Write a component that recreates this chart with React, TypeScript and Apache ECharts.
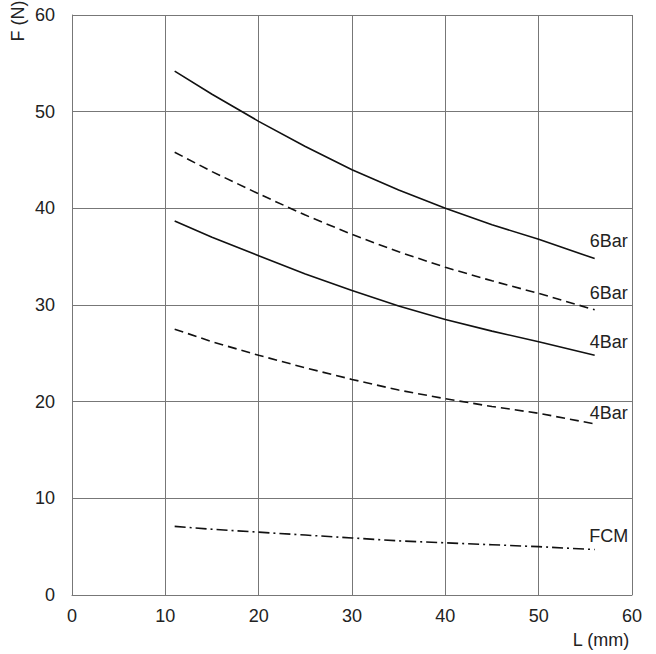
import React, { useEffect, useRef } from "react";
import * as echarts from "echarts";

const xValues = [11, 15, 20, 25, 30, 35, 40, 45, 50, 56];
const bar6Solid = [54.2, 51.8, 49.0, 46.4, 44.0, 41.9, 40.0, 38.3, 36.8, 34.8];
const bar6Dashed = [45.8, 43.8, 41.5, 39.3, 37.3, 35.5, 33.9, 32.5, 31.2, 29.5];
const bar4Solid = [38.7, 37.0, 35.1, 33.2, 31.5, 29.9, 28.5, 27.3, 26.2, 24.8];
const bar4Dashed = [27.5, 26.2, 24.8, 23.5, 22.3, 21.2, 20.3, 19.5, 18.8, 17.7];
const fcm = [7.1, 6.8, 6.5, 6.2, 5.9, 5.6, 5.4, 5.2, 5.0, 4.7];

const seriesDefs = [
  { name: "6Bar", values: bar6Solid, type: "solid" as any, dy: -18 },
  { name: "6Bar", values: bar6Dashed, type: [9, 5] as any, dy: -17 },
  { name: "4Bar", values: bar4Solid, type: "solid" as any, dy: -13 },
  { name: "4Bar", values: bar4Dashed, type: [9, 5] as any, dy: -11 },
  { name: "FCM", values: fcm, type: [11, 4, 2, 4] as any, dy: -14 },
];

export default function App() {
  const ref = useRef<HTMLDivElement>(null);
  useEffect(() => {
    const chart = echarts.init(ref.current!, null, { renderer: "svg" });
    const font = "'Liberation Sans', Arial, sans-serif";
    chart.setOption({
      animation: false,
      textStyle: { fontFamily: font },
      grid: { left: 72, top: 15, right: 24, bottom: 59, containLabel: false },
      xAxis: {
        type: "value",
        min: 0,
        max: 60,
        interval: 10,
        name: "L (mm)",
        nameLocation: "end",
        nameGap: 0,
        nameTextStyle: { color: "#222", fontSize: 18, fontFamily: font, align: "center", verticalAlign: "top", padding: [36, 0, 0, -62] },
        axisLine: { show: true, lineStyle: { color: "#777", width: 1 } },
        axisTick: { show: false },
        axisLabel: { color: "#222", fontSize: 18, fontFamily: font, margin: 12 },
        splitLine: { show: true, lineStyle: { color: "#777", width: 1 } },
      },
      yAxis: {
        type: "value",
        min: 0,
        max: 60,
        interval: 10,
        axisLine: { show: true, lineStyle: { color: "#777", width: 1 } },
        axisTick: { show: false },
        axisLabel: { color: "#222", fontSize: 18, fontFamily: font, margin: 17 },
        splitLine: { show: true, lineStyle: { color: "#777", width: 1 } },
      },
      graphic: [
        {
          type: "text",
          x: 18,
          y: 21,
          rotation: Math.PI / 2,
          style: { text: "F (N)", fill: "#222", fontSize: 18, fontFamily: font, align: "center", verticalAlign: "middle" },
        },
      ],
      series: seriesDefs.map((s) => ({
        type: "line",
        name: s.name,
        smooth: false,
        symbol: "none",
        lineStyle: { color: "#111", width: 1.6, type: s.type },
        endLabel: {
          show: true,
          formatter: s.name,
          distance: 0,
          align: "center",
          verticalAlign: "middle",
          offset: [14, s.dy],
          color: "#222",
          fontSize: 18,
          fontFamily: font,
        },
        data: xValues.map((x, i) => [x, s.values[i]]),
      })),
    });
    return () => chart.dispose();
  }, []);
  return <div ref={ref} style={{ width: 656, height: 654, position: "absolute", left: 0, top: 0 }} />;
}
